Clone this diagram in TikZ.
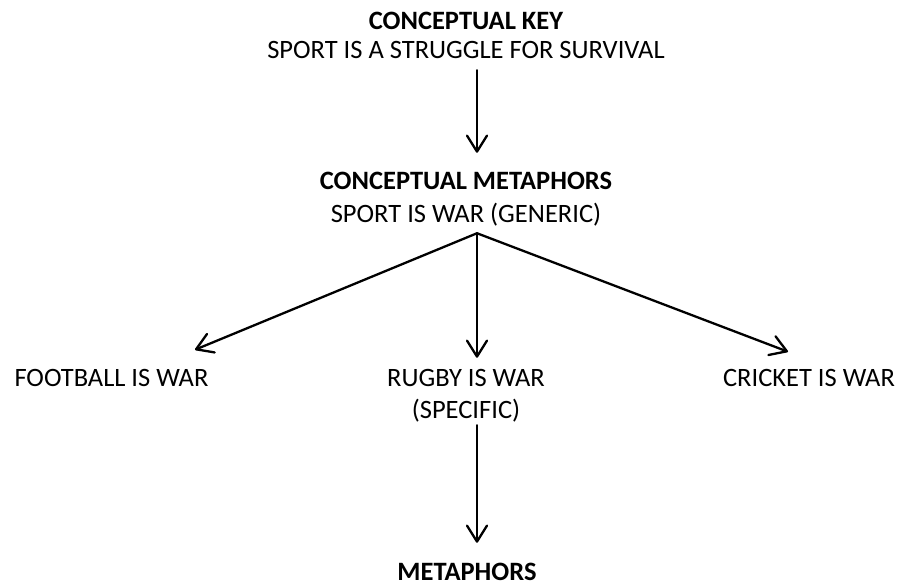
\documentclass[tikz,border=0pt]{standalone}
\usepackage{fontspec}
\setmainfont{Carlito}
\usetikzlibrary{arrows.meta}
\begin{document}
\begin{tikzpicture}[x=1pt,y=-1pt,
  lbl/.style={inner sep=0pt, text height=17.1pt, text depth=0pt, font=\fontsize{26.5}{30}\selectfont},
  hd/.style={lbl, font=\fontsize{26.5}{30}\selectfont\bfseries},
  conn/.style={line width=2.3pt, line cap=round, -{Straight Barb[length=16pt,width=20pt,line cap=round,line join=round]}}]
\useasboundingbox (0,0) rectangle (898,584);
\coordinate (axis) at (477,0);
\node[hd]  (key1) at (466,20.5) {CONCEPTUAL KEY};
\node[lbl] (key2) at (466,49.5) {SPORT IS A STRUGGLE FOR SURVIVAL};
\node[hd]  (meta1) at (466,181) {CONCEPTUAL METAPHORS};
\node[lbl] (meta2) at (466,214) {SPORT IS WAR (GENERIC)};
\node[lbl] (football) at (111.5,378) {FOOTBALL IS WAR};
\node[lbl] (rugby1) at (466,378) {RUGBY IS WAR};
\node[lbl] (rugby2) at (466,410) {(SPECIFIC)};
\node[lbl] (cricket) at (809,378) {CRICKET IS WAR};
\node[hd]  (metaph) at (467,571.5) {METAPHORS};
\coordinate (apex) at ([yshift=-10.5pt]meta2.south -| axis);
\draw[conn] ([yshift=-12pt]key2.south -| axis) -- ([yshift=19.5pt]meta1.north -| axis);
\draw[conn] (apex) -- ([xshift=83.5pt,yshift=19.5pt]football.north);
\draw[conn] (apex) -- ([yshift=11.5pt]rugby1.north -| axis);
\draw[conn] (apex) -- ([xshift=-21pt,yshift=17.5pt]cricket.north);
\draw[conn] ([yshift=-6.5pt]rugby2.south -| axis) -- ([yshift=20pt]metaph.north -| axis);
\end{tikzpicture}
\end{document}
